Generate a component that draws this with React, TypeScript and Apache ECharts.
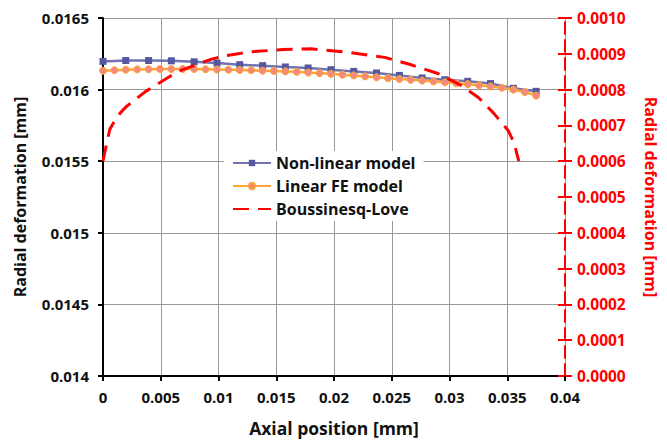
import React, { useEffect, useRef } from "react";
import * as echarts from "echarts";

const nonLinearX = [0, 0.00197, 0.00395, 0.00592, 0.00789, 0.00987, 0.01184, 0.01382, 0.01579, 0.01776, 0.01974, 0.02171, 0.02368, 0.02566, 0.02763, 0.0296, 0.03158, 0.03355, 0.03553, 0.0375];
const nonLinearY = [0.016197, 0.016203, 0.016203, 0.016201, 0.016194, 0.016185, 0.016174, 0.016167, 0.016158, 0.016151, 0.016139, 0.016127, 0.016116, 0.016099, 0.016081, 0.016069, 0.016058, 0.016042, 0.016009, 0.015988];

const linearX = [0, 0.000987, 0.001974, 0.002961, 0.003947, 0.004934, 0.005921, 0.006908, 0.007895, 0.008882, 0.009868, 0.010855, 0.011842, 0.012829, 0.013816, 0.014803, 0.015789, 0.016776, 0.017763, 0.01875, 0.019737, 0.020724, 0.021711, 0.022697, 0.023684, 0.024671, 0.025658, 0.026645, 0.027632, 0.028618, 0.029605, 0.030592, 0.031579, 0.032566, 0.033553, 0.034539, 0.035526, 0.036513, 0.0375];
const linearY = [0.016132, 0.016135, 0.016139, 0.016141, 0.016142, 0.016144, 0.016144, 0.016144, 0.016144, 0.016142, 0.01614, 0.016139, 0.016137, 0.016135, 0.016132, 0.01613, 0.016127, 0.016124, 0.016119, 0.016115, 0.01611, 0.016104, 0.016099, 0.016092, 0.016086, 0.01608, 0.016074, 0.016068, 0.016063, 0.016057, 0.016051, 0.016044, 0.016038, 0.01603, 0.016022, 0.016013, 0.016, 0.015983, 0.015958];

const blX = [0, 0.0003, 0.0006, 0.001, 0.0015, 0.002, 0.0029, 0.0037, 0.0047, 0.0057, 0.0066, 0.0081, 0.0094, 0.0105, 0.0126, 0.0156, 0.018, 0.0215, 0.0244, 0.0266, 0.029, 0.031, 0.0325, 0.0338, 0.0351, 0.0356, 0.036];
const blY = [0.0006, 0.000648, 0.00069, 0.000712, 0.000735, 0.000752, 0.000775, 0.000795, 0.000815, 0.000835, 0.000852, 0.00087, 0.000885, 0.000894, 0.000905, 0.000912, 0.000914, 0.000903, 0.00089, 0.00087, 0.000845, 0.000812, 0.000778, 0.000735, 0.000685, 0.00065, 0.0006];

const xTicks = { min: 0, max: 0.04, interval: 0.005 };
const leftTicks = { min: 0.014, max: 0.0165, interval: 0.0005 };
const rightTicks = { min: 0, max: 0.001, interval: 0.0001 };

const FONT = "Open Sans";

export default function App() {
  const ref = useRef<HTMLDivElement>(null);
  useEffect(() => {
    if (!ref.current) return;
    const chart = echarts.init(ref.current, undefined, { renderer: "svg" });
    const zip = (xs: number[], ys: number[]) => xs.map((x, i) => [x, ys[i]]);
    chart.setOption({
      animation: false,
      backgroundColor: "#fff",
      textStyle: { fontFamily: FONT },
      grid: { left: 103, top: 18, right: 98, bottom: 62, containLabel: false },
      legend: {
        orient: "vertical",
        left: 224,
        top: 151,
        itemWidth: 38,
        itemHeight: 8,
        itemGap: 7,
        padding: [4, 8, 4, 8],
        backgroundColor: "#fff",
        textStyle: { fontFamily: FONT, fontWeight: "bold", fontSize: 16, color: "#111" },
        data: [
          { name: "Non-linear model" },
          { name: "Linear FE model" },
          { name: "Boussinesq-Love", itemStyle: { opacity: 0 } },
        ],
      },
      xAxis: {
        type: "value",
        ...xTicks,
        name: "Axial position [mm]",
        nameLocation: "middle",
        nameGap: 43,
        nameTextStyle: { fontFamily: FONT, fontWeight: "bold", fontSize: 17.5, color: "#111" },
        axisLine: { show: true, onZero: false, lineStyle: { color: "#000", width: 2 } },
        axisTick: { show: true, length: 5, lineStyle: { color: "#000", width: 2 } },
        axisLabel: {
          fontFamily: FONT, fontWeight: "bold", fontSize: 15, color: "#111", margin: 13,
          formatter: (v: number) => String(parseFloat(v.toFixed(4))),
        },
        splitLine: { show: true, lineStyle: { color: "#999", width: 1 } },
      },
      yAxis: [
        {
          type: "value",
          ...leftTicks,
          position: "left",
          name: "Radial deformation [mm]",
          nameLocation: "middle",
          nameGap: 75,
          nameTextStyle: { fontFamily: FONT, fontWeight: "bold", fontSize: 16, color: "#111" },
          axisLine: { show: true, lineStyle: { color: "#000", width: 2 } },
          axisTick: { show: true, length: 5, lineStyle: { color: "#000", width: 2 } },
          axisLabel: {
            fontFamily: FONT, fontWeight: "bold", fontSize: 15, color: "#111", margin: 14,
            formatter: (v: number) => String(parseFloat(v.toFixed(5))),
          },
          splitLine: { show: true, lineStyle: { color: "#999", width: 1 } },
        },
        {
          type: "value",
          ...rightTicks,
          position: "right",
          name: "Radial deformation [mm]",
          nameLocation: "middle",
          nameGap: 78,
          nameRotate: -90,
          nameTextStyle: { fontFamily: FONT, fontWeight: "bold", fontSize: 16, color: "#ff0000" },
          axisLine: { show: true, lineStyle: { color: "#ff0000", width: 2, type: [12, 6] } },
          axisTick: { show: true, length: 7, lineStyle: { color: "#ff0000", width: 2 } },
          axisLabel: {
            fontFamily: FONT, fontWeight: "bold", fontSize: 15.5, color: "#ff0000", margin: 12,
            formatter: (v: number) => v.toFixed(4),
          },
          splitLine: { show: false },
        },
        {
          type: "value",
          ...rightTicks,
          position: "right",
          axisLine: { show: false },
          axisTick: { show: true, inside: true, length: 7, lineStyle: { color: "#ff0000", width: 2 } },
          axisLabel: { show: false },
          splitLine: { show: false },
        },
      ],
      series: [
        {
          name: "Non-linear model",
          type: "line",
          yAxisIndex: 0,
          data: zip(nonLinearX, nonLinearY),
          symbol: "rect",
          symbolSize: 7,
          lineStyle: { color: "#7173B2", width: 2.5 },
          itemStyle: { color: "#55579F" },
          z: 2,
        },
        {
          name: "Linear FE model",
          type: "line",
          yAxisIndex: 0,
          data: zip(linearX, linearY),
          symbol: "circle",
          symbolSize: 7,
          lineStyle: { color: "#FFA535", width: 2.5 },
          itemStyle: { color: "#F48A7C", borderColor: "#FFA535", borderWidth: 1 },
          z: 3,
        },
        {
          name: "Boussinesq-Love",
          type: "line",
          yAxisIndex: 1,
          data: zip(blX, blY),
          smooth: false,
          symbol: "none",
          lineStyle: { color: "#ff0000", width: 3, type: [16, 9] },
          itemStyle: { color: "#ff0000" },
          z: 4,
        },
      ],
    });
    return () => chart.dispose();
  }, []);
  return <div ref={ref} style={{ width: 667, height: 442, position: "absolute", left: 0, top: 0 }} />;
}
